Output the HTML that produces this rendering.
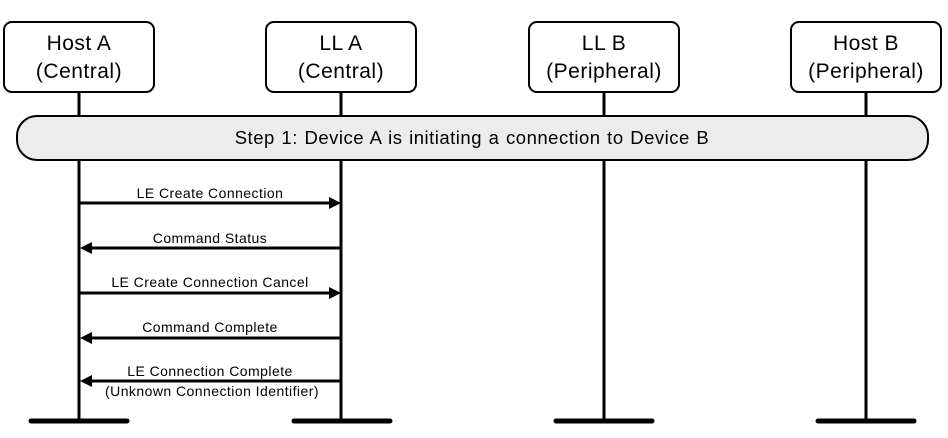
<!DOCTYPE html>
<html><head><style>body{margin:0;background:#fff}</style></head><body>
<svg width="948" height="433" xmlns="http://www.w3.org/2000/svg" font-family="Liberation Sans, sans-serif">
<g stroke="#000" stroke-width="3">
<line x1="79" y1="92" x2="79" y2="421"/><line x1="341" y1="92" x2="341" y2="421"/>
<line x1="604" y1="92" x2="604" y2="421"/><line x1="866" y1="92" x2="866" y2="421"/>
</g>
<g stroke="#000" stroke-width="5" stroke-linecap="round">
<line x1="31" y1="421" x2="127" y2="421"/><line x1="294" y1="421" x2="390" y2="421"/>
<line x1="556" y1="421" x2="652" y2="421"/><line x1="818" y1="421" x2="914" y2="421"/>
</g>
<g fill="#fff" stroke="#000" stroke-width="2">
<rect x="4" y="22" width="150" height="70" rx="8"/><rect x="266" y="22" width="150" height="70" rx="8"/>
<rect x="529" y="22" width="150" height="70" rx="8"/><rect x="791" y="22" width="150" height="70" rx="8"/>
<rect x="17" y="116" width="911" height="44" rx="20" fill="#ececec"/>
</g>
<g font-size="21" text-anchor="middle" fill="#000" letter-spacing="0.5">
<text x="79" y="50">Host A</text><text x="79" y="78">(Central)</text>
<text x="341" y="50">LL  A</text><text x="341" y="78">(Central)</text>
<text x="604" y="50">LL B</text><text x="604" y="78">(Peripheral)</text>
<text x="866" y="50">Host B</text><text x="866" y="78">(Peripheral)</text>
<text x="472" y="144" font-size="18.5" letter-spacing="0.5" word-spacing="1">Step 1:  Device A is initiating a connection to Device B</text>
</g>
<g stroke="#000" stroke-width="3">
<line x1="79" y1="203" x2="330" y2="203"/><line x1="90" y1="248" x2="341" y2="248"/>
<line x1="79" y1="293" x2="330" y2="293"/><line x1="90" y1="338" x2="341" y2="338"/>
<line x1="90" y1="381" x2="341" y2="381"/>
</g>
<g fill="#000">
<polygon points="341,203 329,197 329,209"/><polygon points="80,248 92,242 92,254"/>
<polygon points="341,293 329,287 329,299"/><polygon points="80,338 92,332 92,344"/>
<polygon points="80,381 92,375 92,387"/>
</g>
<g font-size="14" text-anchor="middle" fill="#000" letter-spacing="0.45">
<text x="210" y="198">LE Create Connection</text>
<text x="210" y="243">Command Status</text>
<text x="210" y="287">LE Create Connection Cancel</text>
<text x="210" y="332">Command Complete</text>
<text x="210" y="376">LE Connection Complete</text>
<text x="212" y="396">(Unknown Connection Identifier)</text>
</g>
</svg>
</body></html>
